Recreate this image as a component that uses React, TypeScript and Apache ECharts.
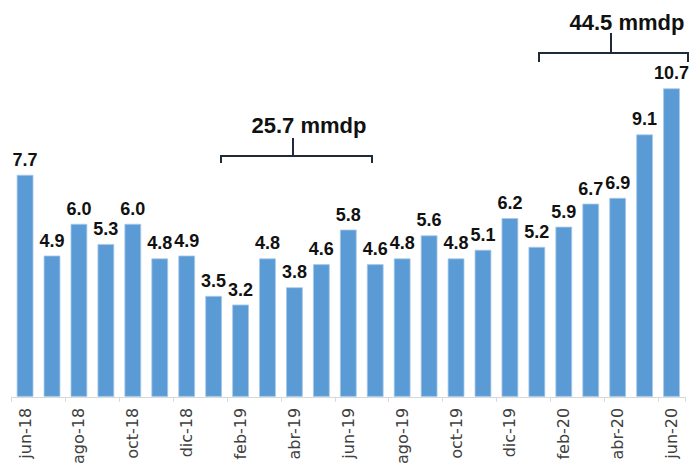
import React, { useEffect, useRef } from "react";
import * as echarts from "echarts";

const categories = [
  "jun-18", "jul-18", "ago-18", "sep-18", "oct-18", "nov-18", "dic-18",
  "ene-19", "feb-19", "mar-19", "abr-19", "may-19", "jun-19", "jul-19",
  "ago-19", "sep-19", "oct-19", "nov-19", "dic-19", "ene-20", "feb-20",
  "mar-20", "abr-20", "may-20", "jun-20",
];
const values = [
  7.7, 4.9, 6.0, 5.3, 6.0, 4.8, 4.9, 3.5, 3.2, 4.8, 3.8, 4.6, 5.8, 4.6,
  4.8, 5.6, 4.8, 5.1, 6.2, 5.2, 5.9, 6.7, 6.9, 9.1, 10.7,
];
const bracketTexts = ["25.7 mmdp", "44.5 mmdp"];

export default function App() {
  const ref = useRef<HTMLDivElement>(null);
  useEffect(() => {
    if (!ref.current) return;
    const chart = echarts.init(ref.current, null, { renderer: "svg" });
    const bracketColor = "#1f2a38";
    const bracket = (x1: number, x2: number, y: number, xm: number, yTop: number, drop: number) => [
      {
        type: "polyline",
        shape: { points: [[x1, y + drop], [x1, y], [x2, y], [x2, y + drop]] },
        style: { stroke: bracketColor, lineWidth: 2, fill: "none" },
      },
      {
        type: "line",
        shape: { x1: xm, y1: y, x2: xm, y2: yTop },
        style: { stroke: bracketColor, lineWidth: 2 },
      },
    ];
    chart.setOption({
      animation: false,
      grid: { left: 11.6, right: 4, top: 22, bottom: 64, containLabel: false },
      xAxis: {
        type: "category",
        data: categories,
        boundaryGap: true,
        axisLine: { lineStyle: { color: "#d9d9d9", width: 1 } },
        axisTick: { show: true, interval: 1, length: 5, lineStyle: { color: "#d9d9d9" } },
        axisLabel: {
          interval: 1,
          rotate: 90,
          margin: 11,
          color: "#404040",
          fontSize: 16,
          fontFamily: "DejaVu Sans",
        },
      },
      yAxis: {
        type: "value",
        min: 0,
        max: 13,
        show: false,
        splitLine: { show: false },
      },
      series: [
        {
          type: "bar",
          data: values,
          barCategoryGap: "38%",
          itemStyle: { color: "#5b9bd5", borderColor: "#a9c9ea", borderWidth: 0.8 },
          label: {
            show: true,
            position: "top",
            distance: 6,
            formatter: (p: any) => Number(p.value).toFixed(1),
            fontFamily: "Liberation Sans",
            fontWeight: "bold",
            fontSize: 18,
            color: "#111111",
          },
        },
      ],
      graphic: [
        ...bracket(221, 372, 156, 293, 138, 7),
        ...bracket(539, 688, 53, 611, 33, 9),
        {
          type: "text",
          x: 309,
          y: 125,
          style: {
            text: bracketTexts[0],
            fontFamily: "Liberation Sans",
            fontWeight: "bold",
            fontSize: 22,
            fill: "#111111",
            textAlign: "center",
            textVerticalAlign: "middle",
          },
        },
        {
          type: "text",
          x: 627,
          y: 22,
          style: {
            text: bracketTexts[1],
            fontFamily: "Liberation Sans",
            fontWeight: "bold",
            fontSize: 22,
            fill: "#111111",
            textAlign: "center",
            textVerticalAlign: "middle",
          },
        },
      ],
    });
    return () => chart.dispose();
  }, []);
  return (
    <div
      ref={ref}
      style={{ position: "fixed", left: 0, top: 0, width: 689, height: 467, background: "#ffffff" }}
    />
  );
}
